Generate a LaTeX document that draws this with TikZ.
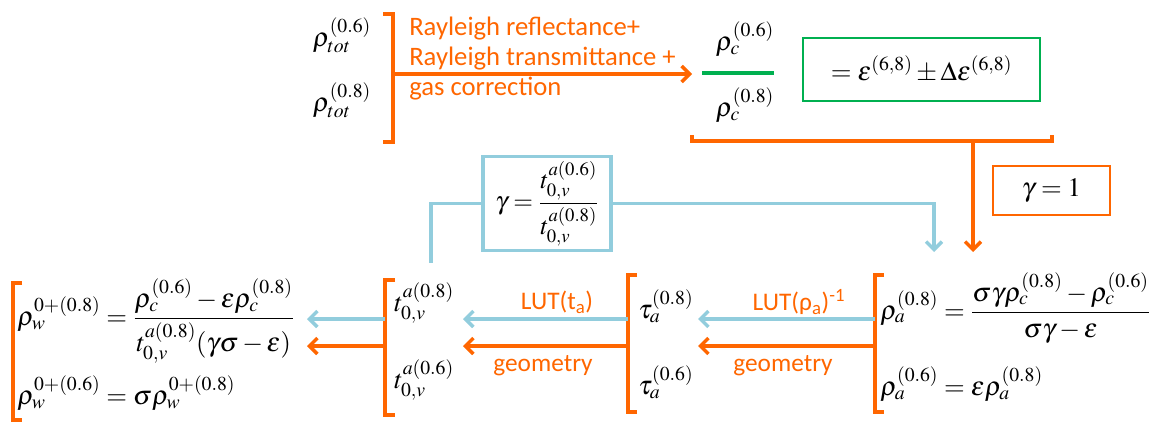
\documentclass[tikz,border=0pt]{standalone}
\usepackage{amsmath}
\usepackage{mathptmx}
\usepackage[no-math]{fontspec}
\setmainfont{Carlito}
\usetikzlibrary{arrows.meta}
\definecolor{org}{RGB}{255,102,0}
\definecolor{lblue}{RGB}{146,205,221}
\definecolor{grn}{RGB}{0,176,80}
\tikzset{
  mth/.style={inner sep=0pt, font=\fontsize{20}{24}\selectfont},
  lbl/.style={inner sep=0pt, text=org, font=\fontsize{19}{22.5}\selectfont},
  obr/.style={draw=org, line width=2.4pt, line join=miter},
  oar/.style={draw=org, line width=2.6pt, -{Straight Barb[length=6pt,width=12pt]}},
  bar/.style={draw=lblue, line width=2.6pt, -{Straight Barb[length=6pt,width=12pt]}},
  bln/.style={draw=lblue, line width=2.6pt},
}
\begin{document}
\begin{tikzpicture}[x=0.75pt,y=-0.75pt]
\useasboundingbox (0,0) rectangle (1165,425);

% ---- top row
\node[mth] (rt6) at (342,35) {$\rho_{tot}^{(0.6)}$};
\node[mth] (rt8) at (342,100) {$\rho_{tot}^{(0.8)}$};
\draw[obr] (383,14) -- (393,14) -- (393,142) -- (383,142);
\coordinate (tb) at (393,74);
\coordinate (fr) at (692,74);
\draw[oar] (tb) -- (fr);
\node[lbl, anchor=west, align=left, font=\fontsize{20}{22.5}\selectfont] (ray) at (409,59) {Rayleigh reflectance+\\Rayleigh transmittance +\\gas correction};

\node[mth] (rc6) at (745,39) {$\rho_{c}^{(0.6)}$};
\node[mth] (rc8) at (745,105) {$\rho_{c}^{(0.8)}$};
\draw[grn, line width=2.4pt] (702,73) -- (774,73);
\node[draw=grn, line width=1.8pt, minimum width=178pt, minimum height=47pt, inner sep=0pt, font=\fontsize{20}{24}\selectfont] (eps) at (921.5,69.5) {$=\varepsilon^{(6,8)}\pm\Delta\varepsilon^{(6,8)}$};

\draw[obr] (692,135) -- (692,141) -- (1052,141) -- (1052,135);
\coordinate (ub) at (973,141);
\coordinate (ut) at (973,252);
\draw[oar] (ub) -- (ut);
\node[draw=org, line width=2pt, minimum width=87.75pt, minimum height=36.75pt, inner sep=0pt, font=\fontsize{20}{24}\selectfont] (g1) at (1051.5,190.5) {$\gamma=1$};

% ---- gamma box (blue)
\node[draw=lblue, line width=2.4pt, minimum width=96pt, minimum height=71pt, inner sep=0pt, font=\fontsize{19}{22}\selectfont] (gb) at (547,203.5) {$\gamma=\dfrac{t_{0,v}^{a(0.6)}}{t_{0,v}^{a(0.8)}}$};
\coordinate (bl) at (431,263);
\coordinate (bt) at (934,252);
\draw[bln] (gb.west) -| (bl);
\draw[bar] (gb.east) -| (bt);

% ---- bottom brackets
\draw[obr] (22,283) -- (13,283) -- (13,420) -- (22,420);
\draw[obr] (395,280) -- (385,280) -- (385,415) -- (395,415);
\draw[obr] (637,275) -- (628,275) -- (628,412) -- (637,412);
\draw[obr] (884,275) -- (875,275) -- (875,412) -- (884,412);

% ---- bottom math
\node[mth, anchor=west] (rw8) at (17,321) {$\rho_{w}^{0+(0.8)}=\dfrac{\rho_c^{(0.6)}-\varepsilon\rho_c^{(0.8)}}{t_{0,v}^{a(0.8)}(\gamma\sigma-\varepsilon)}$};
\node[mth, anchor=west] (rw6) at (17,393) {$\rho_{w}^{0+(0.6)}=\sigma\rho_{w}^{0+(0.8)}$};
\node[mth, anchor=west] (t8) at (394,303) {$t_{0,v}^{a(0.8)}$};
\node[mth, anchor=west] (t6) at (394,380) {$t_{0,v}^{a(0.6)}$};
\node[mth, anchor=west] (ta8) at (638,306) {$\tau_{a}^{(0.8)}$};
\node[mth, anchor=west] (ta6) at (638,382) {$\tau_{a}^{(0.6)}$};
\node[mth, anchor=west] (ra8) at (880,308) {$\rho_{a}^{(0.8)}=\dfrac{\sigma\gamma\rho_c^{(0.8)}-\rho_c^{(0.6)}}{\sigma\gamma-\varepsilon}$};
\node[mth, anchor=west] (ra6) at (880,384) {$\rho_{a}^{(0.6)}=\varepsilon\rho_{a}^{(0.8)}$};

% ---- bottom arrows
\coordinate (b4u) at (875,319); \coordinate (b4d) at (875,346);
\coordinate (b3u) at (628,319); \coordinate (b3d) at (628,346);
\coordinate (b2u) at (385,319); \coordinate (b2d) at (385,346);
\coordinate (e3u) at (698,319); \coordinate (e3d) at (698,346);
\coordinate (e2u) at (463,319); \coordinate (e2d) at (463,346);
\coordinate (e1u) at (307,319); \coordinate (e1d) at (307,346);
\draw[bar] (b4u) -- (e3u);
\draw[oar] (b4d) -- (e3d);
\draw[bar] (b3u) -- (e2u);
\draw[oar] (b3d) -- (e2d);
\draw[bar] (b2u) -- (e1u);
\draw[oar] (b2d) -- (e1d);

\node[lbl] (lut1) at (557,302) {LUT(t\textsubscript{a})};
\node[lbl] (geo1) at (543,366) {geometry};
\node[lbl] (lut2) at (799,302) {LUT(ρ\textsubscript{a})\textsuperscript{-1}};
\node[lbl] (geo2) at (783,366) {geometry};
\end{tikzpicture}
\end{document}
